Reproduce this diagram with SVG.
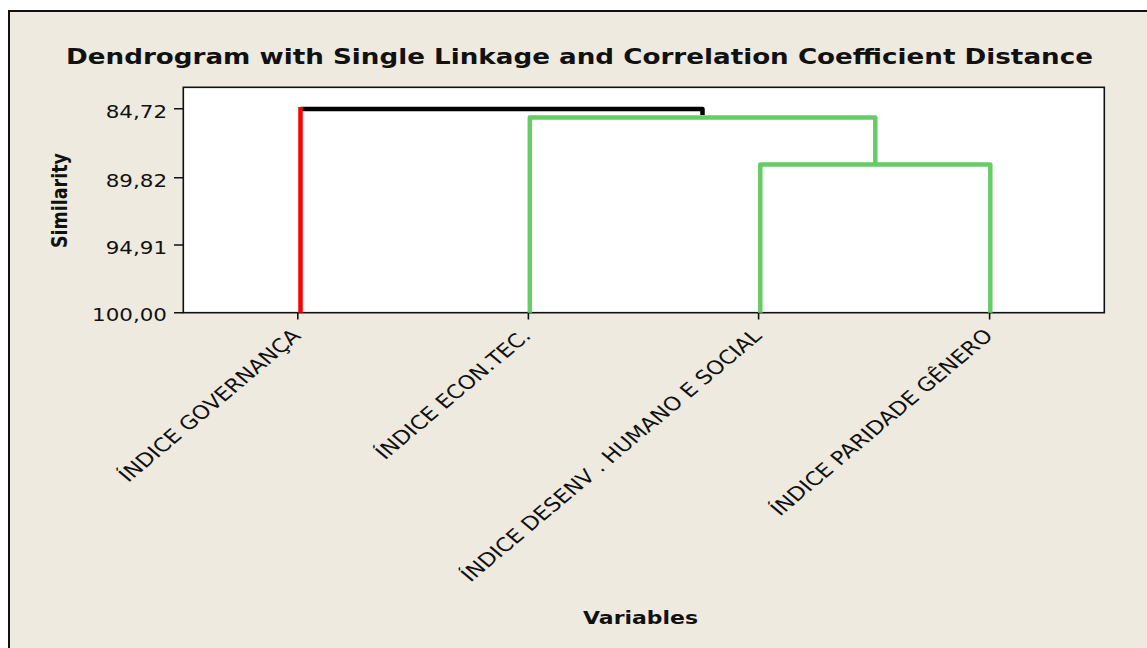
<svg xmlns="http://www.w3.org/2000/svg" width="1147" height="648" viewBox="0 0 1147 648">
<style>
.bg{fill:#EEEAE0;stroke:#111;stroke-width:2}
.plot{fill:#FFFFFF;stroke:#111;stroke-width:1.6}
.tick{stroke:#111;stroke-width:1.6;fill:none}
.t{font-family:"DejaVu Sans","Verdana",sans-serif;fill:#111}
.b{font-weight:bold}
.br{fill:none;stroke-width:4.5;stroke-linejoin:round;stroke-linecap:butt}
.red{stroke:#FF0000}
.blk{stroke:#000000}
.grn{stroke:#66CC66}
</style>
<rect x="0" y="0" width="1147" height="648" fill="#FFFFFF"/>
<rect id="frame" class="bg" x="9" y="11" width="1150" height="650"/>
<g id="title">
<text class="t b" font-size="22" text-anchor="middle" transform="translate(579.5,64) scale(1.19,1)" textLength="863" lengthAdjust="spacingAndGlyphs">Dendrogram with Single Linkage and Correlation Coefficient Distance</text>
</g>
<g id="plot-area">
<rect class="plot" x="183.3" y="87.3" width="921" height="225.4"/>
</g>
<g id="y-axis">
<path class="tick" d="M174,108.7H183.3M174,177.8H183.3M174,245H183.3M174,312.7H183.3"/>
<text class="t" font-size="18" text-anchor="end" transform="translate(167,118) scale(1.19,1)">84,72</text>
<text class="t" font-size="18" text-anchor="end" transform="translate(167,187) scale(1.19,1)">89,82</text>
<text class="t" font-size="18" text-anchor="end" transform="translate(167,254) scale(1.19,1)">94,91</text>
<text class="t" font-size="18" text-anchor="end" transform="translate(167,320.5) scale(1.19,1)">100,00</text>
<text class="t b" font-size="17.5" text-anchor="middle" transform="translate(66.5,200.5) scale(1.19,1) rotate(-90)" textLength="95">Similarity</text>
</g>
<g id="x-axis">
<path class="tick" d="M297.8,312.7V319.5M528.4,312.7V319.5M758.6,312.7V319.5M989.6,312.7V319.5"/>
<text class="t b" font-size="18.5" text-anchor="middle" transform="translate(640.5,624) scale(1.19,1)" textLength="96.6" lengthAdjust="spacingAndGlyphs">Variables</text>
</g>
<g id="leaf-governanca">
<text class="t" font-size="19" text-anchor="end" transform="translate(302,337) scale(1.19,1) rotate(-45)">ÍNDICE GOVERNANÇA</text>
</g>
<g id="leaf-econtec">
<text class="t" font-size="19" text-anchor="end" transform="translate(532,337) scale(1.19,1) rotate(-45)">ÍNDICE ECON.TEC.</text>
</g>
<g id="leaf-desenv">
<text class="t" font-size="19" text-anchor="end" transform="translate(763,337) scale(1.19,1) rotate(-45)">ÍNDICE DESENV . HUMANO E SOCIAL</text>
</g>
<g id="leaf-paridade">
<text class="t" font-size="19" text-anchor="end" transform="translate(994,337) scale(1.19,1) rotate(-45)">ÍNDICE PARIDADE GÊNERO</text>
</g>
<g id="connectors">
<polyline class="br grn" points="760.3,312.7 760.3,164.5 990.3,164.5 990.3,312.7"/>
<polyline class="br grn" points="529.8,312.7 529.8,117.6 875.3,117.6 875.3,164.5"/>
<polyline class="br blk" points="300.5,109 702.5,109 702.5,115"/>
<polyline class="br red" points="300.5,312.7 300.5,107"/>
</g>
</svg>
